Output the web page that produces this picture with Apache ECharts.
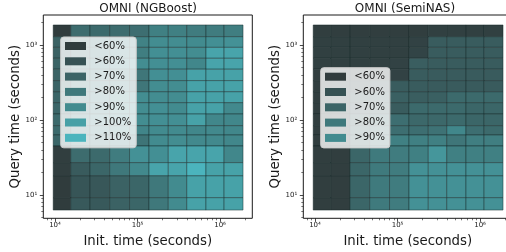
<!DOCTYPE html>
<html>
<head>
<meta charset="utf-8">
<script src="https://cdn.jsdelivr.net/npm/echarts@6/dist/echarts.min.js"></script>
<style>
html, body { margin: 0; padding: 0; background: #fff; }
#chart { width: 506px; height: 252px; }
</style>
</head>
<body>
<div id="chart"></div>
<script>
// cell edges (seconds)
const xEdges = [9500, 15500, 26500, 46000, 80000, 138000, 236000, 395000, 675000, 1120000, 1900000]
const yEdges = [1850, 1290, 930, 665, 475, 335, 238, 170, 120, 84, 63, 45, 27, 18, 9.2, 6.3]

const xTicks = [1e4, 1e5, 1e6]
const yTicks = [1e1, 1e2, 1e3]
const xMinor = [8000, 9000, 20000, 30000, 40000, 50000, 60000, 70000, 80000, 90000,
	200000, 300000, 400000, 500000, 600000, 700000, 800000, 900000, 2000000]
const yMinor = [5, 6, 7, 8, 9, 20, 30, 40, 50, 60, 70, 80, 90,
	200, 300, 400, 500, 600, 700, 800, 900, 2000]

const levels = ['<60%', '>60%', '>70%', '>80%', '>90%', '>100%', '>110%']
const levelColors = ['#303c3d', '#365153', '#3b6466', '#3f787b', '#428b8f', '#47a0a6', '#4bb4bd']

// rows top -> bottom, columns left -> right (% of reference)
const ngboost = [
	[55, 79, 78, 79, 80, 89, 89, 87, 87, 88],
	[74, 80, 84, 88, 90, 96, 96, 95, 97, 98],
	[74, 80, 84, 88, 88, 97, 97, 96, 107, 107],
	[75, 82, 86, 90, 96, 97, 97, 93, 107, 107],
	[75, 82, 86, 88, 84, 97, 97, 106, 106, 106],
	[75, 82, 86, 88, 84, 96, 96, 106, 106, 106],
	[76, 84, 88, 92, 96, 96, 96, 106, 106, 106],
	[76, 84, 88, 92, 96, 97, 95, 106, 106, 94],
	[78, 85, 90, 94, 96, 97, 97, 106, 93, 93],
	[78, 84, 88, 92, 92, 95, 95, 93, 94, 93],
	[76, 82, 84, 86, 83, 95, 96, 94, 94, 93],
	[56, 79, 78, 87, 98, 97, 107, 107, 107, 93],
	[56, 70, 76, 85, 94, 107, 107, 117, 106, 106],
	[55, 67, 68, 74, 76, 85, 95, 106, 106, 106],
	[55, 69, 69, 74, 76, 85, 95, 106, 106, 106]
]
const seminas = [
	[56, 56, 56, 56, 56, 56, 57, 57, 57, 57],
	[57, 57, 57, 57, 57, 58, 71, 71, 71, 71],
	[57, 57, 57, 57, 57, 59, 71, 71, 71, 71],
	[57, 57, 57, 57, 58, 72, 71, 71, 71, 71],
	[56, 57, 58, 58, 58, 71, 70, 70, 70, 70],
	[56, 57, 60, 66, 71, 71, 70, 70, 70, 70],
	[56, 57, 64, 70, 73, 72, 73, 78, 78, 78],
	[56, 57, 66, 70, 71, 78, 78, 78, 76, 76],
	[56, 58, 70, 75, 80, 77, 77, 78, 76, 76],
	[56, 58, 72, 77, 80, 80, 82, 93, 80, 78],
	[56, 58, 72, 80, 89, 89, 89, 84, 88, 88],
	[56, 56, 76, 86, 87, 89, 100, 89, 89, 89],
	[56, 56, 76, 86, 87, 98, 98, 98, 98, 98],
	[56, 56, 76, 86, 87, 98, 98, 98, 98, 98],
	[56, 56, 76, 86, 87, 98, 98, 98, 98, 98]
]

const FONT = 'DejaVu Sans'
const INK = '#1a1a1a'
const SUP = { 0: '⁰', 1: '¹', 2: '²', 3: '³', 4: '⁴', 5: '⁵', 6: '⁶' }
const fmtPow = (v) => '10' + SUP[Math.round(Math.log10(v))]

const colorOf = (v) => {
	const t = Math.max(0, Math.min(1, (v - 55) / 60))
	return echarts.color.lerp(t, levelColors)
}

const toCells = (grid) => {
	const out = []
	grid.forEach((row, r) => {
		row.forEach((v, c) => {
			out.push([xEdges[c], xEdges[c + 1], yEdges[r], yEdges[r + 1], v])
		})
	})
	return out
}

const renderCell = (params, api) => {
	const p0 = api.coord([api.value(0), api.value(2)])
	const p1 = api.coord([api.value(1), api.value(3)])
	return {
		type: 'rect',
		shape: {
			x: Math.min(p0[0], p1[0]),
			y: Math.min(p0[1], p1[1]),
			width: Math.abs(p1[0] - p0[0]),
			height: Math.abs(p1[1] - p0[1])
		},
		style: {
			fill: colorOf(api.value(4)),
			stroke: 'rgba(15,35,35,0.55)',
			lineWidth: 0.8
		}
	}
}

const X_MIN = 7211, X_MAX = 2460000
const Y_MIN = 4.89, Y_MAX = 2512
const boxes = [{ left: 43.3 }, { left: 303.3 }]

const grids = []
const xAxes = []
const yAxes = []
boxes.forEach((b, i) => {
	grids.push({
		left: b.left, top: 15, width: 209, height: 203.3,
		show: true, borderColor: INK, borderWidth: 1, backgroundColor: 'transparent',
		outerBoundsMode: 'none'
	})
	xAxes.push({
		gridIndex: i, type: 'log', min: X_MIN, max: X_MAX,
		axisLine: { show: false },
		splitLine: { show: false },
		axisTick: { customValues: xTicks, length: 3.5, lineStyle: { color: INK, width: 0.8 } },
		axisLabel: { customValues: xTicks, formatter: fmtPow, fontSize: 7, margin: 3, color: INK, fontFamily: FONT },
		name: 'Init. time (seconds)', nameLocation: 'middle', nameGap: 17,
		nameTextStyle: { fontSize: 13.3, color: INK, fontFamily: FONT }
	})
	yAxes.push({
		gridIndex: i, type: 'log', min: Y_MIN, max: Y_MAX,
		axisLine: { show: false },
		splitLine: { show: false },
		axisTick: { customValues: yTicks, length: 3.5, lineStyle: { color: INK, width: 0.8 } },
		axisLabel: { customValues: yTicks, formatter: fmtPow, fontSize: 7, margin: 6, color: INK, fontFamily: FONT },
		name: 'Query time (seconds)', nameLocation: 'middle', nameGap: 20,
		nameTextStyle: { fontSize: 13.3, color: INK, fontFamily: FONT }
	})
})
// minor ticks on twin grids
boxes.forEach((b, i) => {
	grids.push({ left: b.left, top: 15, width: 209, height: 203.3, outerBoundsMode: 'none' })
	xAxes.push({
		gridIndex: i + 2, type: 'log', min: X_MIN, max: X_MAX,
		axisLine: { show: false }, splitLine: { show: false }, axisLabel: { show: false },
		axisTick: { customValues: xMinor, length: 2, lineStyle: { color: INK, width: 0.6 } }
	})
	yAxes.push({
		gridIndex: i + 2, type: 'log', min: Y_MIN, max: Y_MAX,
		axisLine: { show: false }, splitLine: { show: false }, axisLabel: { show: false },
		axisTick: { customValues: yMinor, length: 2, lineStyle: { color: INK, width: 0.6 } }
	})
})

const legendBase = {
	orient: 'vertical', icon: 'rect', itemWidth: 21, itemHeight: 8, itemGap: 3.3,
	padding: [3, 5, 4, 4.3], backgroundColor: 'rgba(255,255,255,0.8)',
	borderColor: '#cccccc', borderWidth: 1, borderRadius: 3, selectedMode: false,
	textStyle: { fontSize: 10, lineHeight: 12, color: INK, fontFamily: FONT, padding: [0, 0, 0, 3.3] }
}

const series = [
	{ type: 'custom', xAxisIndex: 0, yAxisIndex: 0, renderItem: renderCell, encode: { x: [0, 1], y: [2, 3] }, data: toCells(ngboost) },
	{ type: 'custom', xAxisIndex: 1, yAxisIndex: 1, renderItem: renderCell, encode: { x: [0, 1], y: [2, 3] }, data: toCells(seminas) }
]
levels.forEach((name, i) => {
	series.push({
		type: 'custom', name, xAxisIndex: 0, yAxisIndex: 0,
		itemStyle: { color: levelColors[i] },
		renderItem: () => null, data: []
	})
})

const chart = echarts.init(document.getElementById('chart'))
chart.setOption({
	animation: false,
	textStyle: { fontFamily: FONT },
	grid: grids,
	xAxis: xAxes,
	yAxis: yAxes,
	legend: [
		Object.assign({}, legendBase, { data: levels, left: 60.7, top: 37 }),
		Object.assign({}, legendBase, { data: levels.slice(0, 5), left: 320.7, top: 67.7 })
	],
	graphic: [
		{ type: 'text', x: 148, y: 8.5, style: { text: 'OMNI (NGBoost)', align: 'center', verticalAlign: 'middle', fontSize: 12, fontFamily: FONT, fill: INK } },
		{ type: 'text', x: 405, y: 8.5, style: { text: 'OMNI (SemiNAS)', align: 'center', verticalAlign: 'middle', fontSize: 12, fontFamily: FONT, fill: INK } }
	],
	series
})
</script>
</body>
</html>
